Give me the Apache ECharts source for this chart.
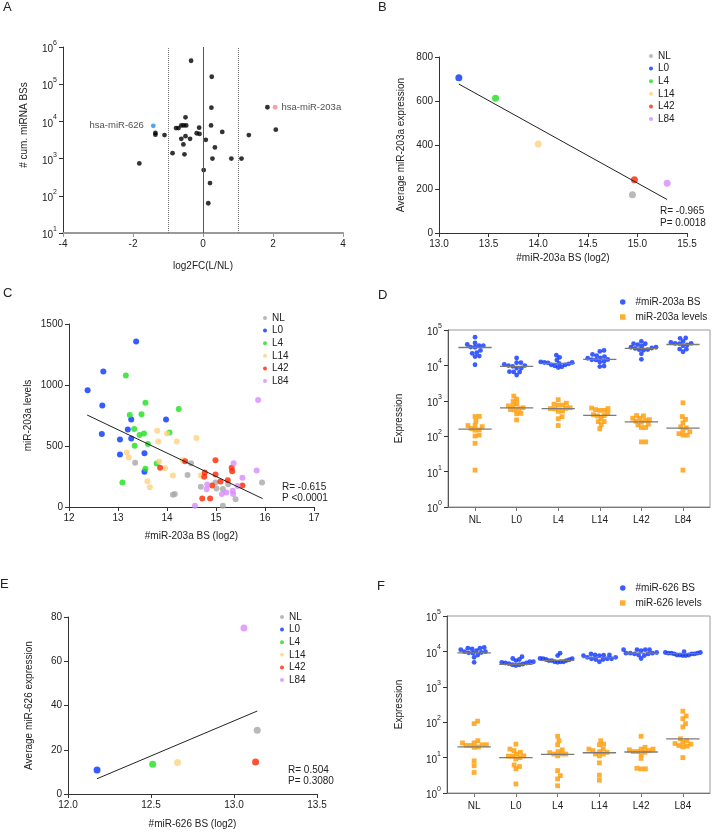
<!DOCTYPE html>
<html><head><meta charset="utf-8">
<script src="https://cdn.jsdelivr.net/npm/echarts@6/dist/echarts.min.js"></script>
<style>html,body{margin:0;padding:0;background:#fff}#c{width:712px;height:832px}</style>
</head><body><div id="c"></div><script>
const FONT = '"Liberation Sans", Arial, Helvetica, sans-serif';
const groups = ['NL','L0','L4','L14','L42','L84'];
const groupColors = ['#a8a8a8','#0433ff','#1ee01e','#ffd280','#ff2600','#d68cff'];

// ---- Panel A: log2FC vs cumulative BS
const aLog2FC = [-0.34,0.25,0.24,1.84,-0.50,-1.36,-1.36,-1.10,-0.77,-0.70,-0.62,-0.55,-0.48,-0.62,-0.50,-0.37,-0.56,-0.87,-0.53,-0.11,-0.18,-0.10,0.08,0.23,0.55,0.34,0.27,0.81,1.10,1.31,2.08,-1.82,0.02,0.20,0.15];
const aCumBS = [426600,158500,23400,24000,12900,4900,4400,4300,6600,6600,7800,7800,7800,3400,4000,3400,2400,1400,1300,6800,4800,4600,3200,7800,5200,2000,1000,1000,1000,4300,6000,740,490,220,63];
const aMiR626 = [-1.42, 7600];
const aMiR203a = [2.06, 24000];
const aCutoffs = [-1, 0, 1];

// ---- Panel B: averages miR-203a
const bAvgBS = [14.95,13.20,13.57,14.00,14.97,15.30];
const bAvgExpr = [174,706,612,405,242,226];
const bFitBS = [13.2,15.3];
const bFitExpr = [677,152];
const bStats = ['R= -0.965','P= 0.0018'];

// ---- Panel C: per-sample miR-203a (BS log2, levels)
const cBS_NL  = [13.35,14.49,14.42,14.16,14.69,14.99,15.01,15.14,15.25,15.40,15.94,15.14,14.12];
const cLev_NL = [362,359,263,107,165,200,151,148,186,63,200,11,101];
const cBS_L0  = [13.37,12.70,12.38,12.68,12.67,13.98,13.20,13.27,13.27,13.04,13.04,13.54,13.54];
const cLev_L0 = [1357,1111,957,831,598,718,636,718,562,554,430,441,288];
const cBS_L4  = [13.16,14.24,13.56,13.24,13.48,13.33,13.44,13.53,13.34,13.61,14.05,13.79,13.56,13.09];
const cLev_L4 = [1078,803,855,754,760,639,590,603,502,516,611,356,313,200];
const cBS_L14 = [13.80,13.82,14.20,14.60,13.18,13.22,13.84,13.96,14.12,13.60,13.65,14.32,14.69,14.00];
const cLev_L14= [625,537,537,565,447,406,373,318,258,211,162,384,258,603];
const cBS_L42 = [14.37,13.86,14.99,14.77,14.76,14.99,15.09,15.24,15.32,15.33,15.54,14.92,14.72,14.88];
const cLev_L42= [376,321,384,282,247,266,208,219,321,293,176,176,69,69];
const cBS_L84 = [15.86,15.36,15.83,15.54,14.82,14.81,15.12,15.21,15.34,15.35,15.44,14.57];
const cLev_L84= [877,359,299,239,184,145,107,118,134,107,173,11];
const cFitBS = [12.37,15.95];
const cFitLev = [754,69];
const cStats = ['R= -0.615','P <0.0001'];

// ---- Panel D medians
const dBSMedian = [32000,9400,11400,14800,30300,39000];
const dLevMedian = [158,635,605,390,255,170];

// ---- Panel E: averages miR-626
const eAvgBS = [13.14,12.175,12.51,12.66,13.13,13.06];
const eAvgExpr = [28.8,10.8,13.4,14.2,14.5,75.0];
const eFitBS = [12.175,13.14];
const eFitExpr = [6.9,37.5];
const eStats = ['R= 0.504','P= 0.3080'];

// ---- Panel F: per-sample miR-626
const fBS_NL  = [12300,12900,12300,11200,11700,10500,9800,9300,9800,7900,6800,4900,9100,8900];
const fBS_L0  = [7100,5900,5500,5100,4700,4200,4700,4900,4400,4200,4000,5100,6300,4500];
const fBS_L4  = [8900,5500,5500,6200,6300,6200,5500,5900,5100,5100,4900,5100,7600,5800];
const fBS_L14 = [7600,8500,7900,7800,7600,7900,6800,5100,6200,5900,6200,5900,6200,6800];
const fBS_L42 = [10500,11200,11200,11200,11200,8900,8900,8500,8500,8900,6300,7600,9300,7900];
const fBS_L84 = [8900,8500,7900,9300,8500,9800,8900,7900,8900,7600,7900,9300,7600,8500];
const fLev_NL  = [107,91,26,26,30,23,22,19.5,23,8.1,5.9,3.8,22,20];
const fLev_L0  = [24,17.4,15.8,12.6,11.2,11,11,9.1,6.2,5.6,4.8,1.8,10,14.1];
const fLev_L4  = [40,30,23,16.6,12.6,12.6,12.6,11.2,4.3,3.1,2.5,1.6,13.8,14.8];
const fLev_L14 = [30,23,24,17.4,17.4,15.8,14.1,12.6,11.2,12.6,7.1,3.2,2.3,14.8];
const fLev_L42 = [40,16.6,17.4,19.5,15.8,14.8,12.6,14.1,9.5,4.8,5.0,4.8,14.8,17.4];
const fLev_L84 = [205,150,126,91,73,34,30,27,25,22,21,20,10,24];
const fBSMedian = [9100,4300,5600,6700,8900,8700];
const fLevMedian = [20,10,12.3,13.7,14.4,34];

// ---------- build
const cBS = [cBS_NL,cBS_L0,cBS_L4,cBS_L14,cBS_L42,cBS_L84];
const cLev = [cLev_NL,cLev_L0,cLev_L4,cLev_L14,cLev_L42,cLev_L84];
const fBS = [fBS_NL,fBS_L0,fBS_L4,fBS_L14,fBS_L42,fBS_L84];
const fLev = [fLev_NL,fLev_L0,fLev_L4,fLev_L14,fLev_L42,fLev_L84];

const TXT = '#222', AX = '#333';
const gridsDef = [
  {left:63, top:47, width:280, height:186},
  {left:439, top:57, width:248, height:176},
  {left:69, top:324, width:245, height:183},
  {left:448, top:330, width:262, height:177, show:true, borderColor:'#999', borderWidth:1},
  {left:68, top:617, width:249, height:177},
  {left:447, top:616, width:263, height:177, show:true, borderColor:'#999', borderWidth:1}
];
const XMIN = -0.65, XMAX = 5.65;
const MARK = 4.8;
const SWARM_D = 4.3;     // collision diameter (px)
const SWARM_MAX = 0.42;  // max half-spread in category units

function swarm(vals, pxPerDecade, diam) {
  const pts = vals.map((v,i)=>({i, y: Math.log10(v)*pxPerDecade, x:0}));
  const order = pts.slice().sort((a,b)=>a.y-b.y);
  const placed = [];
  for (const p of order) {
    const near = placed.filter(q=>Math.abs(q.y-p.y)<diam);
    const cands=[0];
    near.forEach(q=>{const dx=Math.sqrt(diam*diam-(q.y-p.y)**2); cands.push(q.x+dx, q.x-dx);});
    cands.sort((a,b)=>Math.abs(a)-Math.abs(b));
    for (const c of cands) {
      if (near.every(q=>(q.x-c)**2+(q.y-p.y)**2 >= diam*diam-1e-6)) { p.x=c; break; }
    }
    placed.push(p);
  }
  return pts.map(p=>p.x);
}
function swarmSeriesData(groupVals, gridIdx) {
  const g = gridsDef[gridIdx];
  const pxPerDecade = g.height/5, pxPerCat = g.width/(XMAX-XMIN);
  const out = [];
  groupVals.forEach((vals, gi)=>{
    let offs = swarm(vals, pxPerDecade, SWARM_D).map(o=>o/pxPerCat);
    const m = Math.max(...offs.map(Math.abs));
    if (m > SWARM_MAX) offs = offs.map(o=>o*SWARM_MAX/m);
    vals.forEach((v,j)=>out.push([gi + offs[j], v]));
  });
  return out;
}

const lbl = {color:TXT, fontSize:10, fontFamily:FONT};
function axis(o) {
  return Object.assign({
    nameLocation:'middle',
    nameTextStyle:Object.assign({}, lbl),
    axisLine:{show:true, onZero:false, lineStyle:{color:AX, width:1}},
    axisTick:{show:true, length:4, lineStyle:{color:AX}},
    splitLine:{show:false},
    axisLabel:Object.assign({margin:6, formatter:v=>String(v)}, lbl)
  }, o);
}
const supLabel = {
  margin:6,
  formatter: v => '{b|10}{s|' + Math.round(Math.log10(v)) + '}',
  rich:{ b:{fontSize:10, fontFamily:FONT, color:TXT, lineHeight:15, verticalAlign:'bottom'},
         s:{fontSize:7, fontFamily:FONT, color:TXT, lineHeight:7, verticalAlign:'top'} }
};
const catValues = [0,1,2,3,4,5];

const xAxes = [
  axis({gridIndex:0, type:'value', min:-4, max:4, interval:2, name:'log2FC(L/NL)', nameGap:28,
    axisLine:{show:true, onZero:false, lineStyle:{color:'#999', width:2}},
    axisTick:{show:true, length:4, lineStyle:{color:'#999'}}}),
  axis({gridIndex:1, type:'value', min:13, max:15.5, interval:0.5, name:'#miR-203a BS (log2)', nameGap:20,
    axisLabel:Object.assign({margin:6, formatter:v=>v.toFixed(1)}, lbl)}),
  axis({gridIndex:2, type:'value', min:12, max:17, interval:1, name:'#miR-203a BS (log2)', nameGap:24}),
  axis({gridIndex:3, type:'value', min:XMIN, max:XMAX,
    axisLine:{show:true, onZero:false, lineStyle:{color:'#777', width:1}},
    axisTick:{show:true, length:4, customValues:catValues, lineStyle:{color:'#777'}},
    axisLabel:Object.assign({margin:8, customValues:catValues, formatter:v=>groups[Math.round(v)]}, lbl)}),
  axis({gridIndex:4, type:'value', min:12, max:13.5, interval:0.5, name:'#miR-626 BS (log2)', nameGap:25,
    axisLabel:Object.assign({margin:6, formatter:v=>v.toFixed(1)}, lbl)}),
  axis({gridIndex:5, type:'value', min:XMIN, max:XMAX,
    axisLine:{show:true, onZero:false, lineStyle:{color:'#777', width:1}},
    axisTick:{show:true, length:4, customValues:catValues, lineStyle:{color:'#777'}},
    axisLabel:Object.assign({margin:8, customValues:catValues, formatter:v=>groups[Math.round(v)]}, lbl)})
];
const yAxes = [
  axis({gridIndex:0, type:'log', logBase:10, min:10, max:1e6, name:'# cum. miRNA BSs', nameGap:34,
    nameTextStyle:Object.assign({padding:[0,0,0,30]}, lbl), axisLabel:supLabel}),
  axis({gridIndex:1, type:'value', min:0, max:800, interval:200, name:'Average miR-203a expression', nameGap:33}),
  axis({gridIndex:2, type:'value', min:0, max:1500, interval:500, name:'miR-203a levels', nameGap:36}),
  axis({gridIndex:3, type:'log', logBase:10, min:1, max:1e5, name:'Expression', nameGap:44,
    axisLine:{show:true, onZero:false, lineStyle:{color:'#555', width:1}}, axisLabel:supLabel}),
  axis({gridIndex:4, type:'value', min:0, max:80, interval:20, name:'Average miR-626 expression', nameGap:34}),
  axis({gridIndex:5, type:'log', logBase:10, min:1, max:1e5, name:'Expression', nameGap:43,
    axisLine:{show:true, onZero:false, lineStyle:{color:'#555', width:1}}, axisLabel:supLabel})
];

const series = [];
// A
series.push({type:'scatter', xAxisIndex:0, yAxisIndex:0, symbolSize:4.8, itemStyle:{color:'#000'},
  data:aLog2FC.map((x,i)=>[x,aCumBS[i]]),
  markLine:{silent:true, symbol:'none', label:{show:false}, animation:false,
    data:aCutoffs.map(c=>({xAxis:c, lineStyle:{color: c===0?'#555':'#777', width:1, type: c===0?'solid':'dotted'}}))}});
series.push({type:'scatter', xAxisIndex:0, yAxisIndex:0, symbolSize:4.8, itemStyle:{color:'#2a8ee8'},
  data:[{name:'hsa-miR-626', value:aMiR626}],
  label:{show:true, position:'left', distance:7, formatter:'{b}', color:TXT, fontSize:9.5, fontFamily:FONT}});
series.push({type:'scatter', xAxisIndex:0, yAxisIndex:0, symbolSize:4.8, itemStyle:{color:'#f28c84'},
  data:[{name:'hsa-miR-203a', value:aMiR203a}],
  label:{show:true, position:'right', distance:4, formatter:'{b}', color:TXT, fontSize:9.5, fontFamily:FONT}});
// B
series.push({type:'line', xAxisIndex:1, yAxisIndex:1, symbol:'none', lineStyle:{color:'#222', width:1}, silent:true,
  data:bFitBS.map((x,i)=>[x,bFitExpr[i]])});
groups.forEach((g,i)=>series.push({type:'scatter', name:g, xAxisIndex:1, yAxisIndex:1, symbol:'circle', symbolSize:7,
  itemStyle:{color:groupColors[i]}, data:[[bAvgBS[i], bAvgExpr[i]]]}));
// C
series.push({type:'line', xAxisIndex:2, yAxisIndex:2, symbol:'none', lineStyle:{color:'#222', width:1}, silent:true,
  data:cFitBS.map((x,i)=>[x,cFitLev[i]])});
groups.forEach((g,i)=>series.push({type:'scatter', name:g, xAxisIndex:2, yAxisIndex:2, symbol:'circle', symbolSize:6,
  itemStyle:{color:groupColors[i]}, data:cBS[i].map((x,j)=>[x, cLev[i][j]])}));
// D
const dBSVals = cBS.map(arr=>arr.map(x=>Math.pow(2,x)));
series.push({type:'scatter', name:'#miR-203a BS', xAxisIndex:3, yAxisIndex:3, symbol:'circle', symbolSize:MARK,
  itemStyle:{color:'#0a33ff'}, data:swarmSeriesData(dBSVals, 3)});
series.push({type:'scatter', name:'miR-203a levels', xAxisIndex:3, yAxisIndex:3, symbol:'rect', symbolSize:MARK,
  itemStyle:{color:'#ff9a00'}, data:swarmSeriesData(cLev, 3)});
function medianSeries(xi, meds) {
  return {type:'custom', xAxisIndex:xi, yAxisIndex:xi, silent:true, z:5,
    data:meds.map((m,i)=>[i,m]), encode:{x:0,y:1},
    renderItem:(params, api)=>{
      const i = api.value(0), m = api.value(1);
      const p1 = api.coord([i-0.4, m]), p2 = api.coord([i+0.4, m]);
      return {type:'line', shape:{x1:p1[0], y1:p1[1], x2:p2[0], y2:p2[1]}, style:{stroke:'#7a7a7a', lineWidth:1.3}};
    }};
}
series.push(medianSeries(3, dBSMedian));
series.push(medianSeries(3, dLevMedian));
// E
series.push({type:'line', xAxisIndex:4, yAxisIndex:4, symbol:'none', lineStyle:{color:'#222', width:1}, silent:true,
  data:eFitBS.map((x,i)=>[x,eFitExpr[i]])});
groups.forEach((g,i)=>series.push({type:'scatter', name:g, xAxisIndex:4, yAxisIndex:4, symbol:'circle', symbolSize:7,
  itemStyle:{color:groupColors[i]}, data:[[eAvgBS[i], eAvgExpr[i]]]}));
// F
series.push({type:'scatter', name:'#miR-626 BS', xAxisIndex:5, yAxisIndex:5, symbol:'circle', symbolSize:MARK,
  itemStyle:{color:'#0a33ff'}, data:swarmSeriesData(fBS, 5)});
series.push({type:'scatter', name:'miR-626 levels', xAxisIndex:5, yAxisIndex:5, symbol:'rect', symbolSize:MARK,
  itemStyle:{color:'#ff9a00'}, data:swarmSeriesData(fLev, 5)});
series.push(medianSeries(5, fBSMedian));
series.push(medianSeries(5, fLevMedian));

const legTxt = {fontSize:10, fontFamily:FONT, color:TXT, lineHeight:12};
function groupLegend(left, top) {
  return {orient:'vertical', left, top, padding:0, itemWidth:4, itemHeight:4, itemGap:0.6, icon:'circle',
    selectedMode:false, data:groups, textStyle:legTxt};
}
const legTxt2 = Object.assign({padding:[0,0,0,5]}, legTxt);
const legends = [
  groupLegend(649, 50),
  groupLegend(263, 312),
  groupLegend(280, 611),
  {orient:'vertical', left:620, top:296, padding:0, itemWidth:5.5, itemHeight:5.5, itemGap:3, selectedMode:false,
    data:['#miR-203a BS','miR-203a levels'], textStyle:legTxt2},
  {orient:'vertical', left:620, top:582, padding:0, itemWidth:5.5, itemHeight:5.5, itemGap:3, selectedMode:false,
    data:['#miR-626 BS','miR-626 levels'], textStyle:legTxt2}
];

function txt(x, y, s, size) {
  return {type:'text', x, y, style:{text:s, font:(size||10)+'px '+FONT, fill:TXT, verticalAlign:'middle'}};
}
const graphics = [
  {type:'text', x:3, y:1, style:{text:'A', font:'13px '+FONT, fill:TXT}},
  {type:'text', x:378, y:1, style:{text:'B', font:'13px '+FONT, fill:TXT}},
  {type:'text', x:3, y:287, style:{text:'C', font:'13px '+FONT, fill:TXT}},
  {type:'text', x:378, y:289, style:{text:'D', font:'13px '+FONT, fill:TXT}},
  {type:'text', x:0, y:578, style:{text:'E', font:'13px '+FONT, fill:TXT}},
  {type:'text', x:377, y:580, style:{text:'F', font:'13px '+FONT, fill:TXT}},
  txt(660, 211, bStats[0]), txt(660, 223, bStats[1]),
  txt(282, 487, cStats[0]), txt(282, 498, cStats[1]),
  txt(288, 770, eStats[0]), txt(288, 781, eStats[1])
];

const chart = echarts.init(document.getElementById('c'), null, {renderer:'canvas'});
chart.setOption({
  animation:false,
  backgroundColor:'#fff',
  textStyle:{fontFamily:FONT},
  grid:gridsDef.map(g=>Object.assign({outerBoundsMode:'none', containLabel:false}, g)),
  xAxis:xAxes, yAxis:yAxes, series, legend:legends, graphic:graphics,
  tooltip:{show:false}
});
</script></body></html>
